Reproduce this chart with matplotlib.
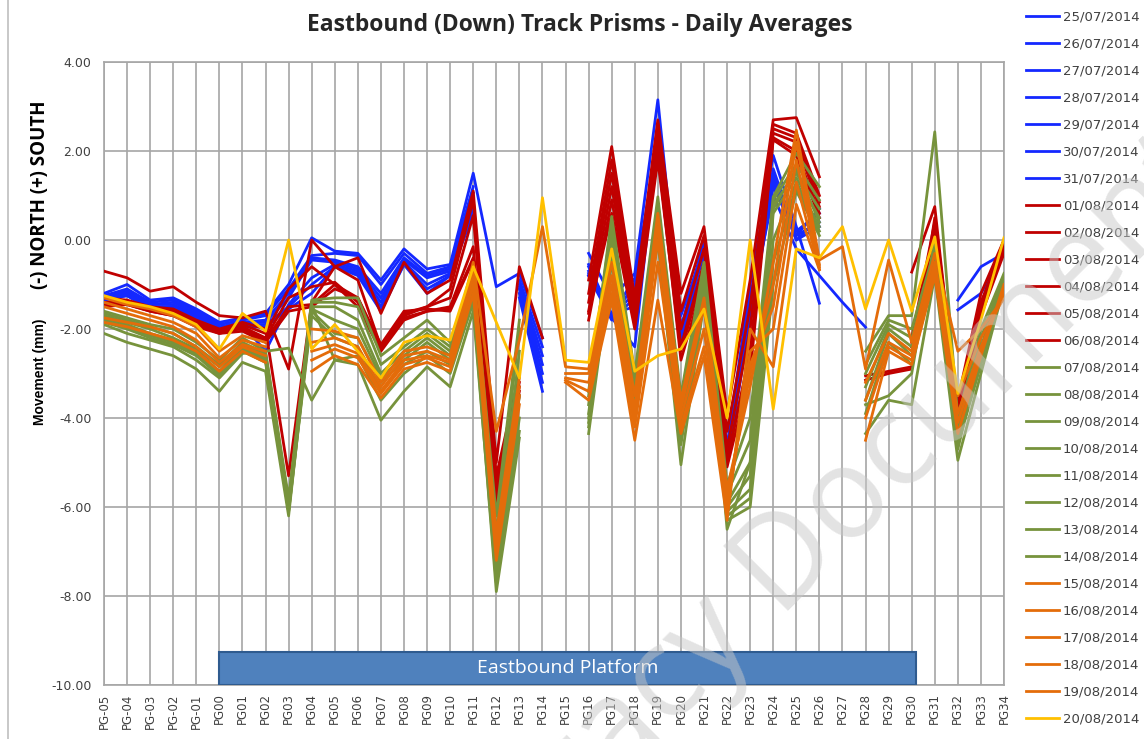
import numpy as np
import matplotlib
matplotlib.use("Agg")
import matplotlib.pyplot as plt
from matplotlib.patches import Rectangle
from matplotlib.lines import Line2D

n = np.nan

categories = ["PG-05", "PG-04", "PG-03", "PG-02", "PG-01"] + ["PG%02d" % k for k in range(35)]

dates = ["25/07/2014", "26/07/2014", "27/07/2014", "28/07/2014", "29/07/2014", "30/07/2014", "31/07/2014",
         "01/08/2014", "02/08/2014", "03/08/2014", "04/08/2014", "05/08/2014", "06/08/2014",
         "07/08/2014", "08/08/2014", "09/08/2014", "10/08/2014", "11/08/2014", "12/08/2014", "13/08/2014", "14/08/2014",
         "15/08/2014", "16/08/2014", "17/08/2014", "18/08/2014", "19/08/2014",
         "20/08/2014"]

# blue: 25/07 - 31/07
b1 = [-1.20, -1.00, -1.35, -1.30, -1.55, -1.85, -1.75, -1.65, -1.00, 0.05, -0.25, -0.30, -0.90, -0.20, -0.65, -0.55, 1.50, -1.05, -0.75, -2.20,
      n, -0.30, -1.30, -0.75, 3.15, -1.95, -0.30, -4.65, -1.00, 1.90, 0.30, -1.42, n, n, n, n, n, -1.35, -0.60, -0.30]
b2 = [-1.25, -1.10, -1.40, -1.35, -1.60, -1.90, -1.80, -1.70, -1.10, -0.35, -0.30, -0.35, -1.00, -0.30, -0.75, -0.60, 1.20, n, -0.90, -2.40,
      n, -0.55, -1.70, -0.85, 2.20, -1.70, -0.20, -4.80, -1.50, 1.00, -0.20, -0.80, -1.40, -1.96, n, n, n, -1.57, -1.20, -0.30]
b3 = [-1.25, -1.15, -1.45, -1.40, -1.65, -1.95, -1.85, -1.80, -1.20, -0.40, -0.45, -0.60, -1.20, -0.40, -0.80, -0.65, 1.05, n, -1.00, -2.60,
      n, -0.60, -1.75, -2.40, 2.30, -2.00, 0.00, -4.70, -1.30, 1.50, 0.00, 0.50, n, n, n, n, n, n, n, n]
b4 = [-1.30, -1.20, -1.45, -1.45, -1.70, -2.00, -1.85, -1.85, -1.30, -0.45, -0.50, -0.65, -1.30, -0.45, -0.85, -0.70, 0.90, n, -1.05, -2.80,
      n, -0.80, -1.65, -1.50, 2.00, -2.20, -0.10, -4.90, -1.60, 1.40, 0.20, 0.60, n, n, n, n, n, n, n, n]
b5 = [-1.30, -1.20, -1.50, -1.50, -1.70, -2.00, -1.90, -2.50, -1.45, -0.85, -0.55, -0.70, -1.40, -0.50, -1.00, -0.75, 0.70, n, -1.10, -3.00,
      n, -0.70, -1.70, -1.20, 1.90, -2.40, -0.20, -5.00, -1.80, 1.20, 0.10, 0.40, n, n, n, n, n, n, n, n]
b6 = [-1.35, -1.25, -1.55, -1.50, -1.75, -2.05, -1.90, -1.90, -1.50, -1.00, -0.60, -0.75, -1.50, -0.55, -1.10, -0.80, 0.65, n, -1.20, -3.20,
      n, -0.75, -1.75, -1.00, 2.10, -2.10, -0.30, -4.75, -1.40, 1.60, 0.10, 0.70, n, n, n, n, n, n, n, n]
b7 = [-1.35, -1.25, -1.55, -1.55, -1.80, -2.05, -1.95, -1.95, -1.55, -1.20, -0.60, -0.80, -1.60, -0.55, -1.20, -0.80, 0.60, n, -1.30, -3.40,
      n, -0.80, -1.80, -1.30, 2.20, -2.30, -0.15, -4.85, -1.70, 1.30, 0.00, 0.30, n, n, n, n, n, n, n, n]

# red: 01/08 - 06/08
r1 = [-0.70, -0.85, -1.15, -1.05, -1.40, -1.70, -1.75, -1.60, -2.90, 0.00, -0.60, -0.40, -1.65, -0.50, -1.20, -0.90, 1.10, -5.00, -0.60, -2.20,
      n, -0.90, 2.10, -1.30, 2.70, -1.20, 0.30, -3.90, -0.90, 2.70, 2.75, 1.42, n, -3.05, -2.95, -2.85, n, -3.60, -1.20, 0.00]
r2 = [-1.30, -1.35, -1.50, -1.55, -1.80, -2.00, -1.85, -2.00, -5.30, -1.40, -0.60, -0.90, -2.40, -1.65, -1.50, -1.10, 0.90, -5.30, -3.00, n,
      n, -1.20, 1.80, -1.50, 2.60, -1.60, 0.10, -4.30, -1.50, 2.60, 2.40, 1.00, n, n, n, -0.72, 0.75, -3.97, -1.45, 0.00]
r3 = [-1.40, -1.40, -1.55, -1.60, -1.85, -2.05, -1.90, -2.10, -1.10, -0.60, -1.00, -1.30, -2.45, -1.70, -1.50, -1.30, 0.55, -5.50, -3.20, n,
      n, -1.40, 1.50, -1.70, 2.40, -2.00, -0.20, -4.70, -2.00, 2.50, 2.30, 0.85, n, n, n, -2.20, 0.40, -3.80, -1.40, -0.10]
r4 = [-1.45, -1.40, -1.55, -1.65, -1.90, -2.10, -1.95, -2.20, -1.30, -1.05, -0.95, -1.40, -2.40, -1.75, -1.60, -1.50, -0.15, -5.80, -3.40, n,
      n, -1.60, 1.20, -1.80, 2.20, -2.40, -0.50, -5.00, -2.50, 2.40, 2.20, 0.75, n, n, n, -2.40, 0.30, -4.00, -1.60, -0.20]
r5 = [-1.45, -1.45, -1.60, -1.70, -1.90, -2.05, -2.00, -2.25, -1.50, -1.45, -1.00, -1.50, -2.50, -1.80, -1.60, -1.55, -0.40, -6.00, -3.50, n,
      n, -1.80, 0.90, -1.90, 2.00, -2.70, -0.90, -5.10, -3.00, 2.30, 2.00, 0.60, n, n, n, -2.30, 0.20, -4.10, -1.70, -0.30]
r6 = [-1.50, -1.45, -1.60, -1.70, -1.95, -2.10, -2.05, -2.30, -1.60, -1.50, -1.10, -1.30, -2.35, -1.60, -1.55, -1.60, -0.45, -5.60, -3.30, n,
      n, -1.65, 0.60, -2.00, 1.80, -2.50, -0.70, -4.90, -2.60, 2.25, 1.90, 0.50, n, -3.15, -3.00, -2.90, 0.50, -3.70, -1.50, -0.05]

# green: 07/08 - 14/08
g1 = [-1.60, -1.75, -1.90, -2.00, -2.30, -2.70, -2.20, -2.50, -5.80, -1.35, -1.30, -1.30, -2.60, -2.20, -1.80, -2.30, -0.80, -6.20, -1.80, n,
      n, -3.50, 0.53, -3.00, 0.97, -3.50, -0.50, -5.50, -4.00, 0.97, 1.95, 1.20, n, -2.50, -1.70, -1.70, 2.43, -4.00, -2.00, -0.75]
g2 = [-1.65, -1.80, -1.95, -2.10, -2.40, -2.80, -2.30, -2.55, -5.90, -1.40, -1.40, -1.50, -2.80, -2.40, -2.00, -2.40, -0.90, -6.60, -2.00, n,
      n, -3.70, 0.30, -3.20, 0.70, -3.80, -0.80, -5.70, -4.50, 0.90, 1.70, 0.90, n, -2.80, -1.80, -2.00, -0.20, -4.20, -2.20, -0.80]
g3 = [-1.70, -1.85, -2.00, -2.20, -2.45, -2.85, -2.35, -2.60, -6.00, -1.50, -1.50, -1.80, -3.00, -2.50, -2.10, -2.50, -1.00, -7.00, -2.50, n,
      n, -3.90, 0.10, -3.30, 0.50, -4.00, -1.00, -5.90, -5.00, 0.80, 1.50, 0.70, n, -3.00, -1.90, -2.20, -0.40, -4.30, -2.40, -0.85]
g4 = [-1.75, -1.90, -2.10, -2.25, -2.50, -2.95, -2.40, -2.65, -6.00, -1.55, -1.80, -2.00, -3.10, -2.60, -2.20, -2.60, -1.10, -7.30, -3.00, n,
      n, -4.00, -0.10, -3.40, 0.40, -4.20, -1.10, -6.00, -5.30, 0.60, 1.40, 0.50, n, -3.30, -2.00, -2.40, -0.50, -4.40, -2.60, -0.90]
g5 = [-1.80, -1.95, -2.15, -2.30, -2.55, -3.00, -2.45, -2.70, -6.10, -1.60, -2.10, -2.20, -3.20, -2.70, -2.30, -2.70, -1.20, -7.50, -3.50, n,
      n, -4.10, -0.30, -3.50, 0.20, -4.40, -1.20, -6.10, -5.60, 0.00, 1.30, 0.30, n, -3.60, -2.10, -2.60, -0.60, -4.50, -2.70, -0.95]
g6 = [-1.85, -2.00, -2.20, -2.35, -2.60, -3.05, -2.50, -2.75, -6.10, -1.70, -2.20, -2.40, -3.40, -2.80, -2.50, -2.80, -1.30, -7.60, -4.00, n,
      n, -4.20, -0.40, -3.60, 0.10, -4.60, -1.30, -6.20, -5.80, -0.50, 1.20, 0.20, n, -3.90, -2.30, -2.80, -0.70, -4.60, -2.80, -1.00]
g7 = [-1.90, -2.10, -2.25, -2.40, -2.70, -3.10, -2.55, -2.50, -2.43, -3.60, -2.70, -2.60, -3.60, -3.00, -2.60, -3.00, -1.40, -7.90, -4.45, n,
      n, -4.35, -0.50, -3.60, 0.00, -5.05, -1.40, -6.30, -6.00, -1.00, 1.10, 0.10, n, -4.35, -3.60, -3.70, -0.80, -4.95, -3.00, -1.05]
g8 = [-2.10, -2.30, -2.45, -2.60, -2.90, -3.40, -2.75, -2.95, -6.20, -1.45, -2.70, -2.80, -4.05, -3.40, -2.85, -3.30, -1.60, -7.70, -4.30, n,
      n, -3.40, 0.40, -3.90, 0.80, -3.60, -0.60, -6.50, -5.00, 0.70, 1.60, 0.40, n, -3.70, -3.50, -3.00, 0.00, -4.70, -2.50, -0.90]

# orange: 15/08 - 19/08
o1 = [-1.30, -1.45, -1.55, -1.70, -1.95, -2.50, -2.15, -2.30, n, -2.00, -2.05, -2.20, -3.20, -2.50, -2.40, -2.60, -0.50, -4.30, -2.25, 0.30,
      -2.85, -2.90, -0.50, -3.50, 0.60, -3.60, -1.30, -5.60, -3.30, -0.50, 2.47, -0.45, -0.15, -2.90, -0.45, -2.30, -0.30, -2.50, -2.00, -1.30]
o2 = [-1.40, -1.55, -1.70, -1.85, -2.10, -2.65, -2.25, -2.40, n, -2.30, -2.20, -2.40, -3.30, -2.60, -2.50, -2.70, -0.60, -6.60, -3.10, n,
      -3.00, -3.00, -0.80, -3.80, 0.30, -3.80, -1.50, -5.80, -3.00, -1.00, 2.20, -0.55, n, -3.20, -2.10, -2.50, -0.50, -3.50, -2.20, -1.30]
o3 = [-1.50, -1.65, -1.80, -1.95, -2.25, -2.75, -2.35, -2.50, n, -2.50, -2.35, -2.55, -3.40, -2.70, -2.60, -2.75, -0.80, -6.80, -3.30, n,
      -3.10, -3.20, -1.00, -4.00, 0.00, -4.00, -2.00, -6.00, -2.80, -1.50, 1.80, -0.60, n, -3.60, -2.30, -2.60, -0.60, -3.90, -2.40, -1.20]
o4 = [-1.75, -1.85, -1.95, -2.10, -2.40, -2.85, -2.40, -2.60, n, -2.70, -2.45, -2.65, -3.45, -2.80, -2.65, -2.85, -1.00, -7.00, -3.50, n,
      -3.15, -3.40, -1.20, -4.20, -0.50, -4.20, -2.40, -6.10, -2.50, -2.00, 1.30, -0.65, n, -4.00, -2.40, -2.70, -0.70, -4.10, -2.50, -1.10]
o5 = [-1.85, -1.95, -2.10, -2.25, -2.50, -2.95, -2.50, -2.75, n, -2.95, -2.60, -2.80, -3.55, -2.90, -2.75, -2.95, -1.20, -7.20, -3.70, n,
      -3.20, -3.60, -1.35, -4.50, -1.35, -4.35, -2.60, -6.30, -2.00, -2.85, 0.80, -0.67, n, -4.50, -2.50, -2.80, -0.80, -4.35, -2.60, -1.00]

# yellow: 20/08
y1 = [-1.25, -1.40, -1.50, -1.65, -1.90, -2.45, -1.65, -2.05, 0.00, -2.45, -1.90, -2.50, -3.10, -2.30, -2.15, -2.25, -0.60, -1.85, -3.10, 0.95,
      -2.70, -2.75, -0.20, -2.95, -2.60, -2.45, -1.55, -4.00, 0.00, -3.80, -0.20, -0.40, 0.30, -1.55, 0.00, -1.60, 0.07, -3.45, -1.80, 0.05]

series = [b1, b2, b3, b4, b5, b6, b7, r1, r2, r3, r4, r5, r6,
          g1, g2, g3, g4, g5, g6, g7, g8, o1, o2, o3, o4, o5, y1]
colors = ["#1428ff"] * 7 + ["#c00000"] * 6 + ["#77933c"] * 8 + ["#e46c0a"] * 5 + ["#ffc000"]

fig = plt.figure(figsize=(11.44, 7.39), dpi=100)
ax = fig.add_axes([104 / 1144, 1 - 685 / 739, 900 / 1144, 623 / 739])

x = np.arange(len(categories))
handles = []
for vals, c, lab in zip(series, colors, dates):
    h, = ax.plot(x, vals, color=c, lw=2.0, label=lab, zorder=3)
    handles.append(h)

ax.set_xlim(0, len(categories) - 1)
ax.set_ylim(-10, 4)
ax.set_yticks(np.arange(-10, 5, 2))
ax.set_yticklabels(["%.2f" % v for v in np.arange(-10, 5, 2)])
ax.set_xticks(x)
ax.set_xticklabels(categories, rotation=90)
ax.tick_params(axis="both", length=0, labelsize=8.5, labelcolor="#404040")
ax.tick_params(axis="y", pad=9, labelsize=9)
ax.tick_params(axis="x", pad=6)
ax.grid(True, color="#a6a6a6", lw=1.2, zorder=0)
for s in ax.spines.values():
    s.set_color("#a6a6a6")
    s.set_linewidth(1.2)

# platform band
ax.add_patch(Rectangle((5, -10), 30.2, 0.75, facecolor="#4f81bd", edgecolor="#2f5b8f", lw=1.5, zorder=4))
ax.text(20.1, -9.62, "Eastbound Platform", color="white", ha="center", va="center",
        fontsize=14, family="Open Sans", zorder=5)

fig.text(0.507, 0.966, "Eastbound (Down) Track Prisms - Daily Averages", ha="center", va="center",
         fontsize=16.5, fontweight="bold", family="Open Sans", color="#262626")
fig.text(40 / 1144, 1 - 195 / 739, "(-) NORTH (+) SOUTH", rotation=90, ha="center", va="center",
         fontsize=13.5, fontweight="bold", family="Open Sans", color="black")
fig.text(40 / 1144, 1 - 372 / 739, "Movement (mm)", rotation=90, ha="center", va="center",
         fontsize=10, fontweight="bold", family="Liberation Sans", color="black")

fig.legend(handles=handles, loc="upper left", bbox_to_anchor=(1022 / 1144, 1 - 7 / 739),
           frameon=False, fontsize=9.5, handlelength=2.5, handletextpad=0.3,
           labelspacing=1.06, borderaxespad=0, borderpad=0.3, labelcolor="#404040")

fig.add_artist(Line2D([8 / 1144, 8 / 1144], [0, 1], color="#bfbfbf", lw=1.2))

# watermark
fig.text(822 / 1144, 1 - 530 / 739, "Legacy Document", rotation=45, ha="center", va="center",
         fontsize=92, color="#c8c8c8", alpha=0.5, family="Open Sans", zorder=10)

fig.savefig("out.png", dpi=100)
